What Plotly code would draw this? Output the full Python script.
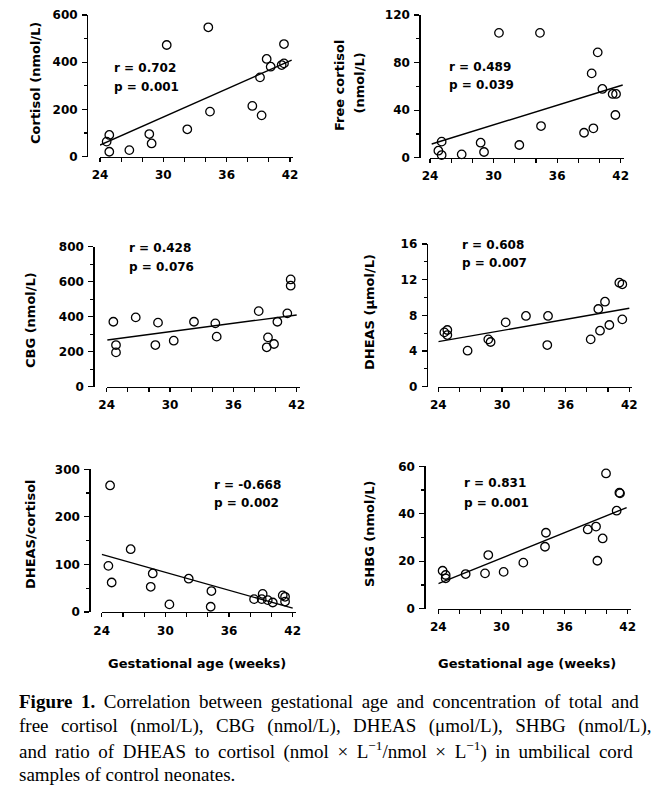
import plotly.graph_objects as go

W, H = 652, 794

# ---------------- data ----------------
# Panel A: total cortisol (nmol/L)
cort_age = [24.63, 24.88, 24.88, 26.78, 28.67, 28.89, 30.32, 32.27, 34.26, 34.42,
            38.43, 39.16, 39.31, 39.79, 40.17, 41.21, 41.43, 41.43]
cort_val = [64, 92, 21, 28, 96, 56, 473, 116, 548, 191, 215, 336, 175, 414, 381, 388, 395, 477]
cort_fit_age = [24.0, 42.16]
cort_fit_val = [49, 409]

# Panel B: free cortisol (nmol/L)
free_age = [25.10, 24.79, 25.10, 26.99, 28.78, 29.10, 30.51, 32.43, 34.38, 34.48,
            38.54, 39.26, 39.42, 39.83, 40.27, 41.24, 41.56, 41.50]
free_val = [13.5, 5.9, 2.2, 2.8, 12.6, 4.8, 105, 10.7, 105, 26.6, 21.0, 70.9, 24.7, 88.6,
            57.8, 53.6, 53.6, 35.9]
free_fit_age = [24.16, 42.19]
free_fit_val = [11.5, 61.1]

# Panel C: CBG (nmol/L)
cbg_age = [24.63, 24.88, 24.88, 26.75, 28.61, 28.86, 30.35, 32.27, 34.29, 34.42,
           38.40, 39.28, 39.16, 39.85, 40.17, 41.11, 41.43, 41.43]
cbg_val = [371, 238, 196, 396, 238, 366, 263, 371, 362, 286, 432, 282, 225, 244, 371, 419, 613, 577]
cbg_fit_age = [24.06, 42.0]
cbg_fit_val = [267, 410]

# Panel D: DHEAS (umol/L)
dheas_age = [24.57, 24.85, 24.85, 26.76, 28.71, 28.93, 30.35, 32.26, 34.34, 34.27,
             38.36, 39.08, 39.24, 39.71, 40.12, 41.06, 41.34, 41.34]
dheas_val = [6.09, 6.36, 5.79, 4.04, 5.31, 5.01, 7.21, 7.93, 7.93, 4.67, 5.31, 8.71, 6.28,
             9.53, 6.92, 11.66, 11.48, 7.55]
dheas_fit_age = [24.0, 42.0]
dheas_fit_val = [5.05, 8.79]

# Panel E: DHEAS / cortisol
ratio_age = [24.79, 24.63, 24.94, 26.73, 28.62, 28.81, 30.38, 32.20, 34.27, 34.34,
             38.36, 39.08, 39.17, 39.65, 40.12, 41.06, 41.28, 41.28]
ratio_val = [266, 97, 62, 132, 53, 81, 16, 70, 11, 44, 27, 27, 38, 25, 20, 35, 32, 22]
ratio_fit_age = [24.0, 42.0]
ratio_fit_val = [121, 8]

# Panel F: SHBG (nmol/L)
shbg_age = [24.41, 24.70, 24.70, 26.60, 28.44, 28.75, 30.21, 32.08, 34.14, 34.23,
            38.20, 38.99, 39.12, 39.62, 39.94, 40.95, 41.21, 41.27]
shbg_val = [16.0, 14.2, 12.8, 14.6, 14.9, 22.6, 15.5, 19.4, 26.1, 32.0, 33.4, 34.6, 20.2,
            29.6, 57.0, 41.3, 48.9, 48.6]
shbg_fit_age = [24.0, 41.9]
shbg_fit_val = [10.6, 42.6]

r_labels = ["r = 0.702", "r = 0.489", "r = 0.428", "r = 0.608", "r = -0.668", "r = 0.831"]
p_labels = ["p = 0.001", "p = 0.039", "p = 0.076", "p = 0.007", "p = 0.002", "p = 0.001"]
x_ticks = [24, 30, 36, 42]
x_title = "Gestational age (weeks)"

caption = [
    "<b>Figure 1.</b> Correlation between gestational age and concentration of total and",
    "free cortisol (nmol/L), CBG (nmol/L), DHEAS (μmol/L), SHBG (nmol/L),",
    "and ratio of DHEAS to cortisol (nmol × L<sup>−1</sup>/nmol × L<sup>−1</sup>) in umbilical cord",
    "samples of control neonates.",
]

# ---------------- layout helpers ----------------
def fx(px):
    return px / W


def fy(py):
    return 1 - py / H


SANS = "DejaVu Sans, Arial, sans-serif"
SERIF = "Liberation Serif, Times New Roman, serif"
tick_font = dict(family=SANS, size=12, color="black", weight="bold")
lab_font = dict(family=SANS, size=12, color="black", weight="bold")
title_font = dict(family=SANS, size=13, color="black", weight="bold")

panels = [
    # geometry: (px of week 24, px of week 42, y top px, y bottom px, y-axis px)
    dict(x=cort_age, y=cort_val, fx_=cort_fit_age, fy_=cort_fit_val,
         geo=(100, 290, 15, 156.7, 87), ymax=600, major=200, minor=100,
         txt=(112, 68, 87)),
    dict(x=free_age, y=free_val, fx_=free_fit_age, fy_=free_fit_val,
         geo=(430, 620.7, 15, 157.7, 419.3), ymax=120, major=40, minor=20,
         txt=(446.7, 66.7, 85)),
    dict(x=cbg_age, y=cbg_val, fx_=cbg_fit_age, fy_=cbg_fit_val,
         geo=(106.7, 296.7, 246.7, 386.7, 93.3), ymax=800, major=200, minor=100,
         txt=(126.7, 248.3, 266.5)),
    dict(x=dheas_age, y=dheas_val, fx_=dheas_fit_age, fy_=dheas_fit_val,
         geo=(438.3, 629.3, 244, 386.7, 426.7), ymax=16, major=4, minor=2,
         txt=(460, 245, 263.3)),
    dict(x=ratio_age, y=ratio_val, fx_=ratio_fit_age, fy_=ratio_fit_val,
         geo=(101.7, 292.7, 469.3, 612, 89.3), ymax=300, major=100, minor=50,
         txt=(211.7, 485, 503.3)),
    dict(x=shbg_age, y=shbg_val, fx_=shbg_fit_age, fy_=shbg_fit_val,
         geo=(438.3, 627.7, 466.3, 608.7, 424.3), ymax=60, major=20, minor=10,
         txt=(461.7, 483.3, 503.3)),
]

fig = go.Figure()
annotations = []
XMAX = 42.3

for i, p in enumerate(panels, start=1):
    sfx = "" if i == 1 else str(i)
    x24, x42, ytop, ybot, yax = p["geo"]
    xend = x24 + (x42 - x24) * (XMAX - 24) / 18.0
    fig.add_trace(go.Scatter(
        x=p["x"], y=p["y"], mode="markers", xaxis="x" + sfx, yaxis="y" + sfx,
        marker=dict(symbol="circle-open", size=8.5, color="black", line=dict(width=1.3)),
        cliponaxis=False, showlegend=False, hoverinfo="skip"))
    fig.add_trace(go.Scatter(
        x=p["fx_"], y=p["fy_"], mode="lines", xaxis="x" + sfx, yaxis="y" + sfx,
        line=dict(color="black", width=1.4), cliponaxis=False,
        showlegend=False, hoverinfo="skip"))
    fig.layout["xaxis" + sfx] = dict(
        domain=[fx(x24), fx(xend)], range=[24, XMAX], anchor="y" + sfx, automargin=False,
        tickmode="array", tickvals=x_ticks, ticks="outside", ticklen=4, tickwidth=1.2,
        tickcolor="black",
        minor=dict(dtick=2, tick0=24, ticks="outside", ticklen=4, tickwidth=1.2,
                   tickcolor="black", showgrid=False),
        showline=True, linewidth=1.3, linecolor="black", showgrid=False, zeroline=False,
        tickfont=tick_font, ticklabelstandoff=3)
    fig.layout["yaxis" + sfx] = dict(
        domain=[fy(ybot), fy(ytop)], range=[0, p["ymax"]], anchor="free", position=fx(yax),
        automargin=False,
        dtick=p["major"], tick0=0, ticks="outside", ticklen=5, tickwidth=1.2, tickcolor="black",
        minor=dict(dtick=p["minor"], tick0=0, ticks="outside", ticklen=3, tickwidth=1.2,
                   tickcolor="black", showgrid=False),
        showline=True, linewidth=1.3, linecolor="black", showgrid=False, zeroline=False,
        tickfont=tick_font, ticklabelstandoff=2)
    tx, ry, py_ = p["txt"]
    annotations.append(dict(text=r_labels[i - 1], x=fx(tx), y=fy(ry), xref="paper", yref="paper",
                            xanchor="left", yanchor="middle", showarrow=False, font=lab_font))
    annotations.append(dict(text=p_labels[i - 1], x=fx(tx), y=fy(py_), xref="paper", yref="paper",
                            xanchor="left", yanchor="middle", showarrow=False, font=lab_font))

# y-axis titles
ytitles = [
    ("Cortisol (nmol/L)", 35, 83),
    ("Free cortisol", 339, 86),
    ("(nmol/L)", 359, 83.5),
    ("CBG (nmol/L)", 31, 320),
    ("DHEAS (μmol/L)", 369, 312),
    ("DHEAS/cortisol", 30, 534),
    ("SHBG (nmol/L)", 369, 534),
]
for t, x, y in ytitles:
    annotations.append(dict(text=t, x=fx(x), y=fy(y), xref="paper", yref="paper",
                            xanchor="center", yanchor="middle", textangle=-90,
                            showarrow=False, font=title_font))

for x in (196.7, 526.7):
    annotations.append(dict(text=x_title, x=fx(x), y=fy(663), xref="paper", yref="paper",
                            xanchor="center", yanchor="middle", showarrow=False, font=title_font))

# caption lines; the first three are justified in the print, emulated with extra thin spaces
THIN = "\u2009"
extra = [THIN, THIN + THIN, THIN, ""]
cap_y = [701, 725.5, 750, 774.5]
for t, y, e in zip(caption, cap_y, extra):
    annotations.append(dict(text=t.replace(" ", " " + e) if e else t,
                            x=fx(17), y=fy(y), xref="paper", yref="paper",
                            xanchor="left", yanchor="middle", showarrow=False,
                            font=dict(family=SERIF, size=19, color="black")))

fig.update_layout(
    width=W, height=H, margin=dict(l=0, r=0, t=0, b=0, pad=0, autoexpand=False),
    paper_bgcolor="white", plot_bgcolor="white", showlegend=False,
    hovermode=False, annotations=annotations)

fig.write_html("out.html", config={"displayModeBar": False, "staticPlot": True},
               post_script="document.body.style.margin='0';")
